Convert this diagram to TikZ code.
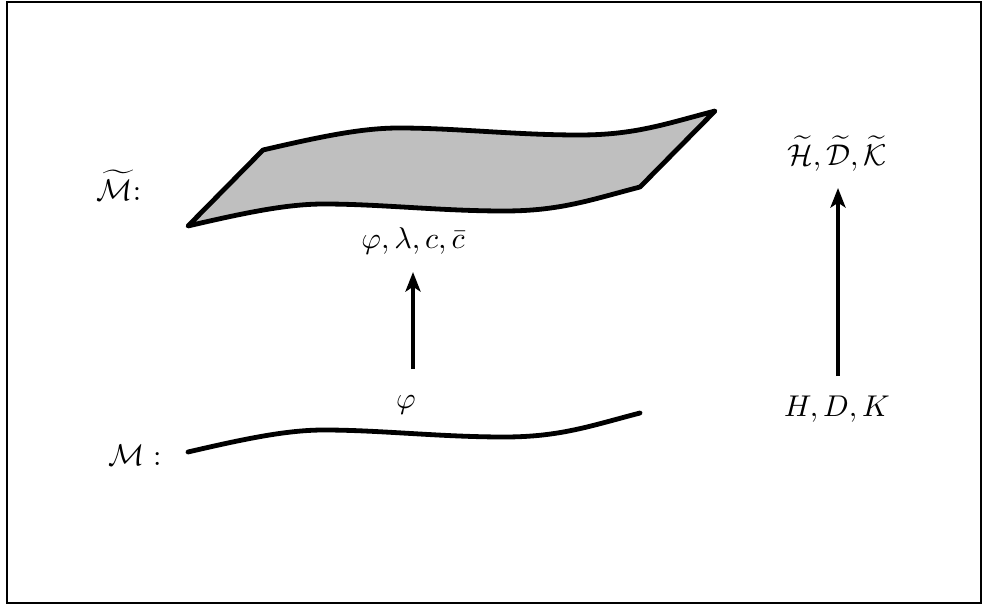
\documentclass[tikz,border=0pt]{standalone}
\usepackage{amsmath,amssymb}
\usetikzlibrary{arrows.meta}
\begin{document}
\begin{tikzpicture}[x=0.333pt,y=-0.333pt,
  thick line/.style={line width=1.6pt,line join=round,line cap=round},
  arr/.style={line width=1.6pt,-{Stealth[length=6.5pt,width=5pt,inset=1.6pt]}},
  lbl/.style={inner sep=0pt}]
\useasboundingbox (0,0) rectangle (983,606);
\draw[line width=0.7pt] (7,2) rectangle (981,603);
% surface
\draw[thick line,fill=black!25] (188,226) -- (263,150)
  .. controls (323,136) and (363,128) .. (399,128)
  .. controls (455,128) and (515,135) .. (579,135)
  .. controls (635,135) and (665,124) .. (715,111)
  -- (640,187)
  .. controls (590,200) and (560,211) .. (504,211)
  .. controls (440,211) and (380,204) .. (324,204)
  .. controls (288,204) and (248,212) .. (188,226) -- cycle;
% base curve
\draw[thick line] (188,452) .. controls (248,438) and (288,430) .. (324,430)
  .. controls (380,430) and (440,437) .. (504,437)
  .. controls (560,437) and (590,426) .. (640,413);
% labels
\node[lbl,anchor=base] (Mt) at (119,200) {$\widetilde{\mathcal{M}}$:};
\node[lbl,anchor=base] (M) at (135,465) {$\mathcal{M}:$};
\node[lbl,anchor=base] (fields) at (413,248) {$\varphi,\lambda,c,\bar c$};
\node[lbl] (phi) at (406,405) {$\varphi$};
\node[lbl,anchor=base] (Ht) at (837,165) {$\widetilde{\mathcal{H}},\widetilde{\mathcal{D}},\widetilde{\mathcal{K}}$};
\node[lbl,anchor=base] (H) at (837,416) {$H,D,K$};
% arrows
\coordinate (a1s) at (413,369);
\coordinate (a1e) at (413,272);
\coordinate (a2s) at (838,376);
\coordinate (a2e) at (838,188);
\draw[arr] (a1s) -- (a1e);
\draw[arr] (a2s) -- (a2e);
\end{tikzpicture}
\end{document}
